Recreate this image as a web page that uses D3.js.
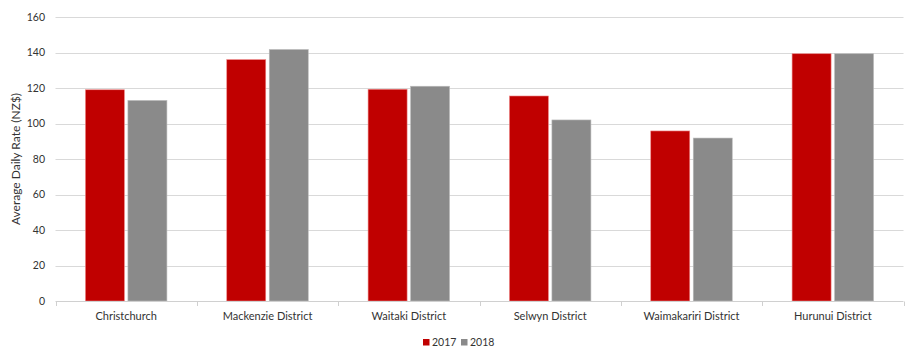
<!DOCTYPE html>
<html><head><meta charset="utf-8">
<script src="https://cdn.jsdelivr.net/npm/d3@7"></script>
<style>body{margin:0;background:#fff;} text{font-family:Lato,"Open Sans",sans-serif;}</style>
</head><body>
<svg id="c" width="908" height="347"></svg>
<script>
const categories = ["Christchurch","Mackenzie District","Waitaki District","Selwyn District","Waimakariri District","Hurunui District"];
const seriesNames = ["2017","2018"];
const values2017 = [119, 136, 119.3, 115.5, 95.8, 139.3];
const values2018 = [113, 141.7, 121, 102, 91.8, 139.3];
const yTicks = [0,20,40,60,80,100,120,140,160];
const colors = ["#c00000","#8a8a8a"];

const svg = d3.select("#c");
const m = {l:55.5, r:5, t:17, b:46};
const W = 908, H = 347;
const x = d3.scaleBand().domain(categories).range([m.l, 903.5]).paddingInner(0).paddingOuter(0);
const y = d3.scaleLinear().domain([0,160]).range([301, 17]);

// gridlines
svg.append("g").selectAll("line").data(yTicks.filter(d=>d>0)).join("line")
  .attr("x1", m.l).attr("x2", 903.5)
  .attr("y1", d=>Math.round(y(d))+0.5).attr("y2", d=>Math.round(y(d))+0.5)
  .attr("stroke","#d9d9d9").attr("stroke-width",1);

// y tick labels
svg.append("g").selectAll("text").data(yTicks).join("text")
  .attr("x", 45).attr("y", d=>y(d)).attr("dy","0.35em")
  .attr("text-anchor","end").attr("font-size",10.5).attr("fill","#333")
  .text(d=>d);

// y title
svg.append("text").attr("transform","translate(20,159) rotate(-90)")
  .attr("text-anchor","middle").attr("font-size",12).attr("fill","#333")
  .text("Average Daily Rate (NZ$)");

// bars
const bw = 39, gap = 3.5;
const data = categories.map((c,i)=>({c, v:[values2017[i], values2018[i]]}));
const g = svg.append("g");
data.forEach(d=>{
  const cx = x(d.c) + x.bandwidth()/2;
  d.v.forEach((v,j)=>{
    const x0 = j===0 ? cx - gap/2 - bw : cx + gap/2;
    g.append("rect").attr("x", x0).attr("y", y(v)).attr("width", bw).attr("height", y(0)-y(v))
      .attr("fill", colors[j]).attr("stroke", j===0?"#e88":"#bbb").attr("stroke-width",0.6);
  });
});

// x axis
const xa = svg.append("g");
xa.append("line").attr("x1", m.l).attr("x2", 903.5).attr("y1", 301.5).attr("y2", 301.5).attr("stroke","#d0d0d0");
const bounds = categories.map(c=>x(c)).concat([x(categories[categories.length-1])+x.bandwidth()]);
xa.selectAll("line.t").data(bounds).join("line").attr("class","t")
  .attr("x1", d=>Math.round(d)+0.5).attr("x2", d=>Math.round(d)+0.5).attr("y1",301.5).attr("y2",306)
  .attr("stroke","#d0d0d0");
xa.selectAll("text").data(categories).join("text")
  .attr("x", d=>x(d)+x.bandwidth()/2).attr("y", 320).attr("text-anchor","middle")
  .attr("font-size",11).attr("fill","#333").text(d=>d);

// legend
const leg = svg.append("g");
const lx = [423, 461];
seriesNames.forEach((s,i)=>{
  leg.append("rect").attr("x", lx[i]).attr("y", 339).attr("width",6.5).attr("height",6.5).attr("fill",colors[i]);
  leg.append("text").attr("x", lx[i]+9).attr("y", 346).attr("font-size",10.5).attr("fill","#333").text(s);
});
</script>
</body></html>
